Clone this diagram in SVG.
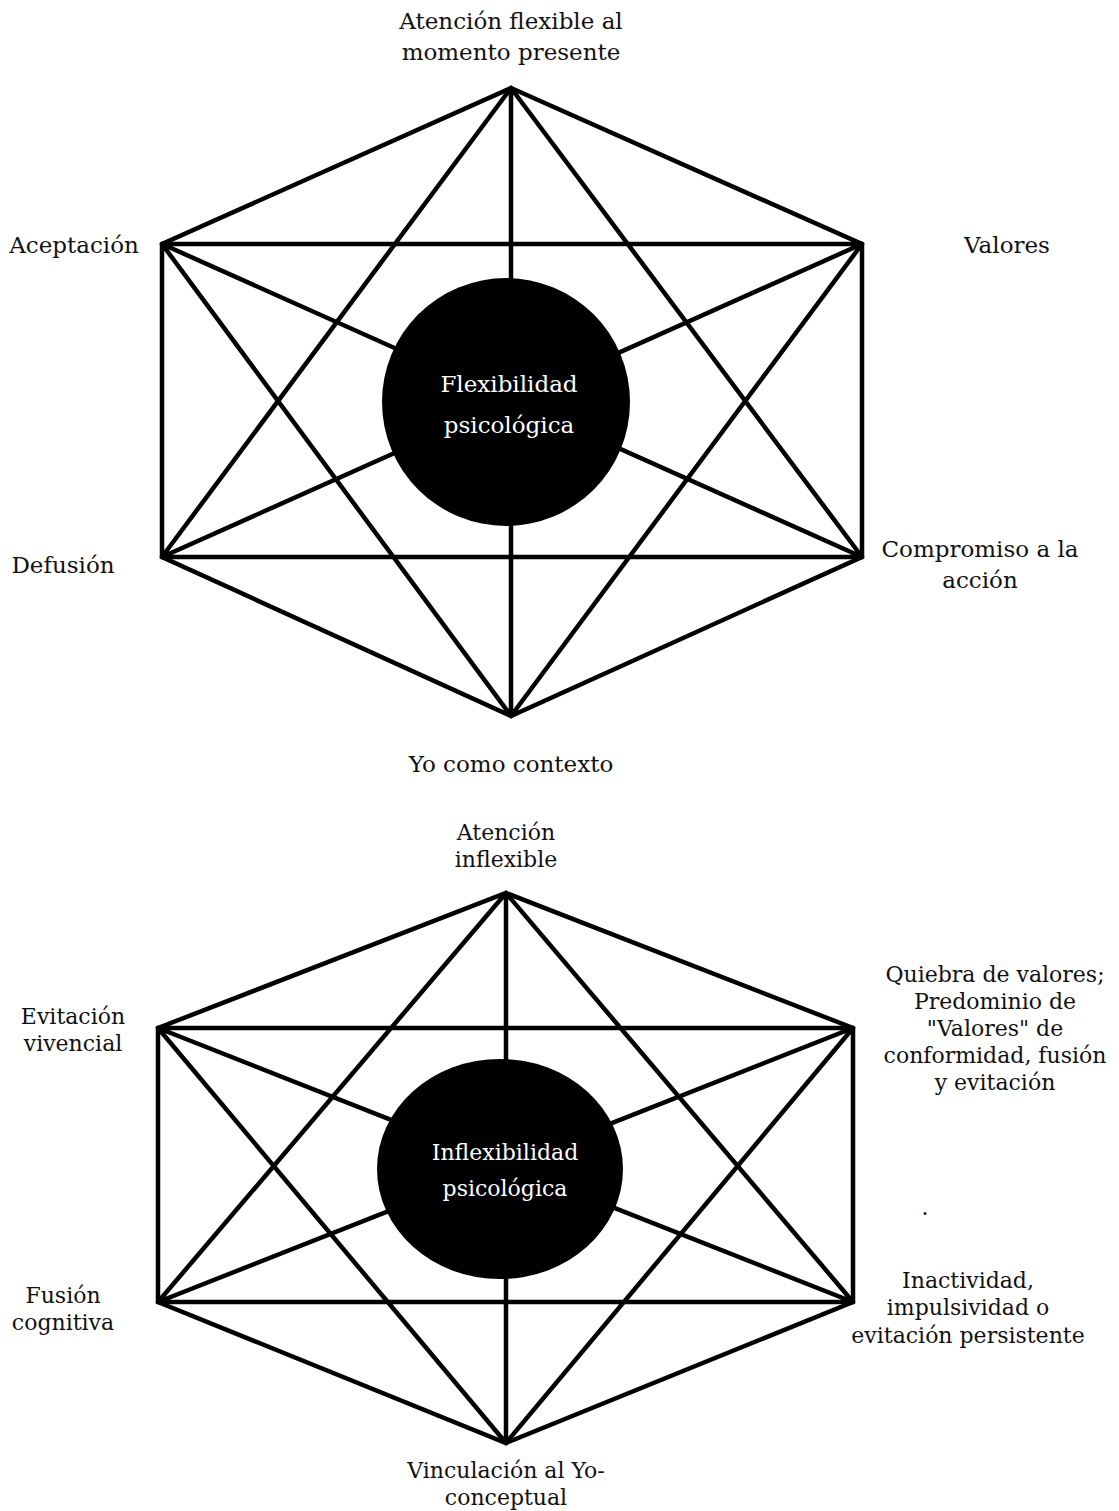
<svg xmlns="http://www.w3.org/2000/svg" width="1119" height="1511" viewBox="0 0 1119 1511">
<style>
.ln{stroke:#000;stroke-width:4.5;stroke-linecap:round;fill:none}
.t{font-family:"DejaVu Serif","Liberation Serif",serif;fill:#111;text-anchor:middle}
.a{font-size:23px}
.b{font-size:22px}
.w{fill:#fff}
</style>
<rect width="1119" height="1511" fill="#fff"/>
<g id="connectors">
<g id="top-lines">
<path class="ln" d="M511,88 L862,244 L862,557 L511,716 L162,557 L162,244 Z"/>
<path class="ln" d="M162,244 L862,244 M162,557 L862,557 M511,88 L511,716 M511,88 L162,557 M511,88 L862,557 M511,716 L162,244 M511,716 L862,244 M162,244 L862,557 M862,244 L162,557"/>
</g>
<g id="bottom-lines">
<path class="ln" d="M506,893 L853,1028 L853,1302 L506,1443 L158,1302 L158,1028 Z"/>
<path class="ln" d="M158,1028 L853,1028 M158,1302 L853,1302 M506,893 L506,1443 M506,893 L158,1302 M506,893 L853,1302 M506,1443 L158,1028 M506,1443 L853,1028 M158,1028 L853,1302 M853,1028 L158,1302"/>
</g>
</g>
<g id="node-flex">
<circle cx="506" cy="402" r="124" fill="#000"/>
<text class="t a w" x="509" y="392">Flexibilidad</text>
<text class="t a w" x="509" y="433">psicológica</text>
</g>
<g id="node-top"><text class="t a" x="511" y="29">Atención flexible al</text><text class="t a" x="511" y="60">momento presente</text></g>
<g id="node-acept"><text class="t a" x="74" y="253">Aceptación</text></g>
<g id="node-valores"><text class="t a" x="1007" y="253">Valores</text></g>
<g id="node-defusion"><text class="t a" x="63" y="573">Defusión</text></g>
<g id="node-compromiso"><text class="t a" x="980" y="557">Compromiso a la</text><text class="t a" x="980" y="588">acción</text></g>
<g id="node-yo"><text class="t a" x="511" y="772">Yo como contexto</text></g>
<g id="node-inflex">
<ellipse cx="500" cy="1169" rx="123" ry="110" fill="#000"/>
<text class="t b w" x="505" y="1160">Inflexibilidad</text>
<text class="t b w" x="505" y="1196">psicológica</text>
</g>
<g id="node-atinf"><text class="t b" x="506" y="840">Atención</text><text class="t b" x="506" y="867">inflexible</text></g>
<g id="node-quiebra"><text class="t b" x="995" y="982">Quiebra de valores;</text><text class="t b" x="995" y="1009">Predominio de</text><text class="t b" x="995" y="1036">"Valores" de</text><text class="t b" x="995" y="1063">conformidad, fusión</text><text class="t b" x="995" y="1090">y evitación</text></g>
<g id="node-dot"><text class="t b" x="925" y="1215">.</text></g>
<g id="node-evit"><text class="t b" x="73" y="1024">Evitación</text><text class="t b" x="73" y="1051">vivencial</text></g>
<g id="node-fusion"><text class="t b" x="63" y="1303">Fusión</text><text class="t b" x="63" y="1330">cognitiva</text></g>
<g id="node-inact"><text class="t b" x="968" y="1288">Inactividad,</text><text class="t b" x="968" y="1315">impulsividad o</text><text class="t b" x="968" y="1343">evitación persistente</text></g>
<g id="node-vinc"><text class="t b" x="506" y="1478">Vinculación al Yo-</text><text class="t b" x="506" y="1505">conceptual</text></g>
</svg>
